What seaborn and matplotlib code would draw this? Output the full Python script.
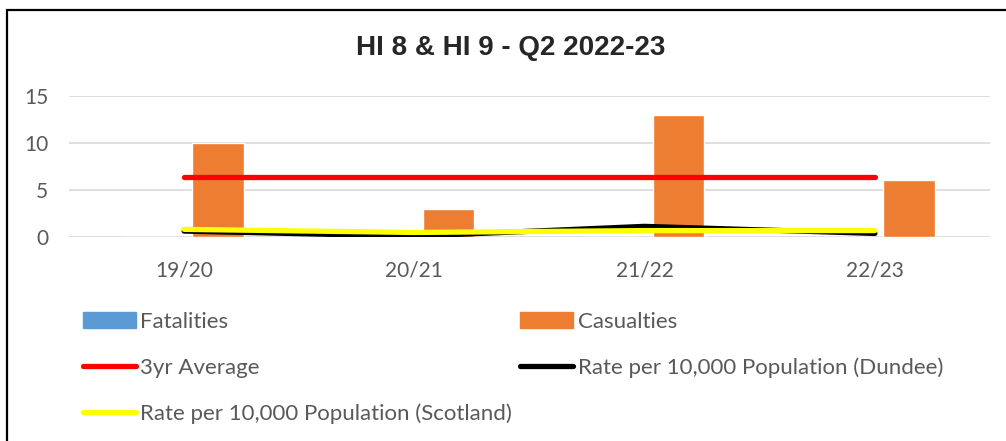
import matplotlib
import matplotlib.pyplot as plt
import numpy as np
import pandas as pd
import seaborn as sns
from matplotlib.patches import Patch, Rectangle

matplotlib.use("agg")

years = ["19/20", "20/21", "21/22", "22/23"]
fatalities = [0, 0, 0, 0]
casualties = [10, 3, 13, 6]
avg_3yr = [6.4, 6.4, 6.4, 6.4]
rate_dundee = [0.6, 0.05, 1.1, 0.35]
rate_scotland = [0.78, 0.45, 0.65, 0.65]

bar_colors = {"Fatalities": "#5B9BD5", "Casualties": "#ED7D31"}

sns.set_theme(style="white")
plt.rcParams["font.family"] = ["Lato", "DejaVu Sans"]

bars = pd.DataFrame({
    "year": years * 2,
    "series": ["Fatalities"] * len(years) + ["Casualties"] * len(years),
    "value": fatalities + casualties,
})

fig = plt.figure(figsize=(10.06, 4.41), dpi=100)
ax = fig.add_axes([0.0686, 0.4633, 0.9155, 0.319])

sns.barplot(data=bars, x="year", y="value", hue="series", palette=bar_colors,
            width=0.59, gap=0.24, saturation=1, legend=False, ax=ax, zorder=2)

pos = np.arange(len(years))
line_specs = [
    ("3yr Average", avg_3yr, "#FF0000"),
    ("Rate per 10,000 Population (Dundee)", rate_dundee, "#000000"),
    ("Rate per 10,000 Population (Scotland)", rate_scotland, "#FFFF00"),
]
line_handles = []
for name, vals, col in line_specs:
    sns.lineplot(x=pos, y=vals, color=col, linewidth=3.8, ax=ax,
                 solid_capstyle="round", zorder=3)
    line_handles.append(ax.get_lines()[-1])

ax.set_xlim(-0.5, len(years) - 0.5)
ax.set_ylim(0, 15)
ax.set_yticks([0, 5, 10, 15])
ax.set_xlabel("")
ax.set_ylabel("")
ax.grid(True, axis="y", color="#D9D9D9", linewidth=1.2)
ax.set_axisbelow(True)
sns.despine(ax=ax, left=True, bottom=True)
ax.tick_params(axis="y", length=0, pad=15, labelsize=15, labelcolor="#595959")
ax.tick_params(axis="x", length=0, pad=17, labelsize=15, labelcolor="#595959")

fig.text(0.508, 1 - 48 / 441, "HI 8 & HI 9 - Q2 2022-23", ha="center", va="center",
         fontsize=20, fontweight="bold", family="Liberation Sans")

# legend rows in Excel order: (Fatalities, Casualties), (3yr, Dundee), (Scotland)
handles = [Patch(color=bar_colors["Fatalities"]), line_handles[0], line_handles[2],
           Patch(color=bar_colors["Casualties"]), line_handles[1]]
labels = ["Fatalities", line_specs[0][0], line_specs[2][0],
          "Casualties", line_specs[1][0]]
fig.legend(handles, labels, ncol=2, loc="upper left",
           bbox_to_anchor=(83 / 1006, 1 - 312 / 441), frameon=False, fontsize=16,
           handlelength=2.38, handletextpad=0.2, columnspacing=0.36,
           labelspacing=1.15, borderaxespad=0, borderpad=0, labelcolor="#595959")

fig.patches.append(Rectangle((7 / 1006, -0.1), 1.2, 1 - 10 / 441 + 0.1,
                             transform=fig.transFigure, fill=False,
                             edgecolor="black", linewidth=1.6))

fig.savefig("out.png", dpi=100)
